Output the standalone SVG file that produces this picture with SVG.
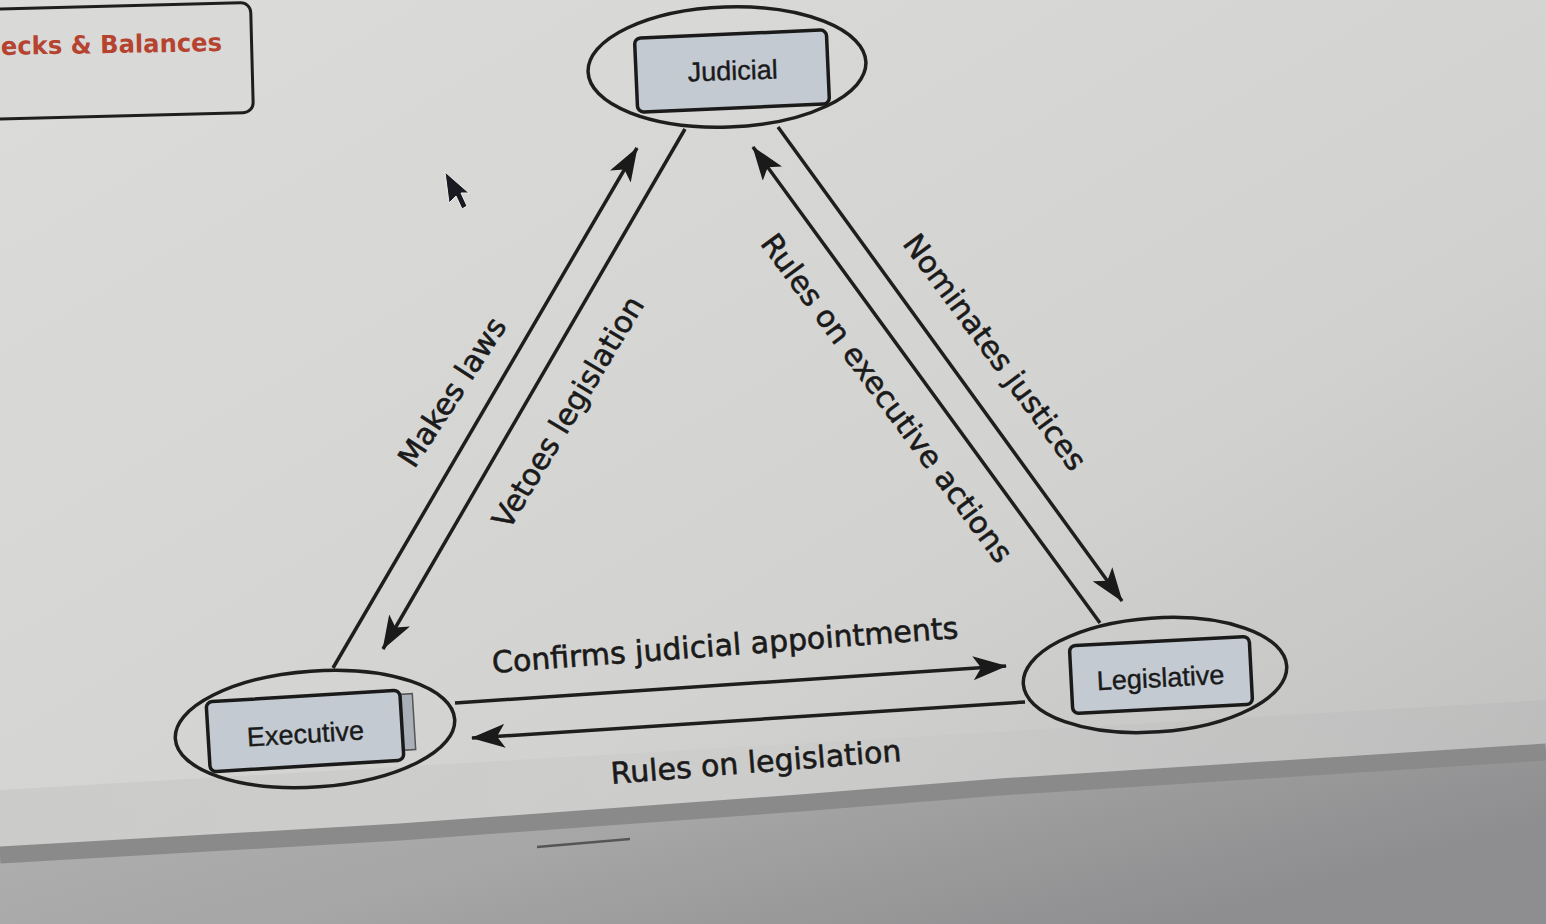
<svg xmlns="http://www.w3.org/2000/svg" width="1546" height="924" viewBox="0 0 1546 924">
<defs>
  <linearGradient id="bg" x1="0" y1="0" x2="1" y2="1">
    <stop offset="0" stop-color="#dcdcda"/>
    <stop offset="0.6" stop-color="#d2d2d0"/>
    <stop offset="1" stop-color="#bdbdbd"/>
  </linearGradient>
  <linearGradient id="low" x1="0" y1="0" x2="1" y2="0.4">
    <stop offset="0" stop-color="#b2b2b2"/>
    <stop offset="0.5" stop-color="#a6a6a6"/>
    <stop offset="1" stop-color="#8e8e90"/>
  </linearGradient>
  <linearGradient id="strip" x1="0" y1="0" x2="1" y2="0">
    <stop offset="0" stop-color="#c2c2c2"/>
    <stop offset="0.5" stop-color="#cacaca"/>
    <stop offset="1" stop-color="#b8b8b8"/>
  </linearGradient>
  <marker id="ah" viewBox="0 0 34 24" refX="33" refY="12" markerWidth="34" markerHeight="24" markerUnits="userSpaceOnUse" orient="auto">
    <path d="M0,0 L34,12 L0,24 L8,12 z" fill="#1a1a1a"/>
  </marker>
  <style>
    .line{stroke:#1e1e1e;stroke-width:3.5;fill:none}
    .ell{fill:none;stroke:#1e1e1e;stroke-width:3.5}
    .box{fill:#c3cad2;stroke:#1a1a1a;stroke-width:3.5}
    .nt{font-family:"Liberation Sans",Arial,sans-serif;font-size:27px;fill:#1a1a1a;stroke:#1a1a1a;stroke-width:0.4;text-anchor:middle}
    .lbl{font-family:"DejaVu Sans",Verdana,sans-serif;font-size:30px;fill:#1a1a1a;stroke:#1a1a1a;stroke-width:0.6;text-anchor:middle;dominant-baseline:central}
  </style>
</defs>

<!-- background scene -->
<rect x="0" y="0" width="1546" height="924" fill="url(#bg)"/>
<polygon points="0,790 1546,700 1546,752 1000,787 800,803 400,832 0,855" fill="url(#strip)" opacity="0.5"/>
<polygon points="0,855 400,832 800,803 1000,787 1546,752 1546,924 0,924" fill="url(#low)"/>
<polyline points="0,855 400,832 800,803 1000,787 1546,752" fill="none" stroke="#8a8a8a" stroke-width="17"/>
<line x1="537" y1="847" x2="630" y2="839" stroke="#555" stroke-width="2.5"/>

<!-- title panel -->
<g id="title">
  <rect x="-20" y="6" width="272" height="110" rx="10" fill="#d9d9d7" stroke="#1e1e1e" stroke-width="3" transform="rotate(-1.5 116 61)"/>
  <text x="1" y="53" font-family="'DejaVu Sans',Verdana,sans-serif" font-weight="bold" font-size="25" fill="#b5432f" textLength="221" lengthAdjust="spacingAndGlyphs" transform="rotate(-1 110 50)">ecks &amp; Balances</text>
</g>

<!-- connectors -->
<g id="connectors">
  <path class="line" d="M333,668 L637,148" marker-end="url(#ah)"/>
  <path class="line" d="M685,129 L383,649" marker-end="url(#ah)"/>
  <path class="line" d="M1100,623 L753,147" marker-end="url(#ah)"/>
  <path class="line" d="M778,127 L1122,601" marker-end="url(#ah)"/>
  <path class="line" d="M455,703 L1006,666" marker-end="url(#ah)"/>
  <path class="line" d="M1025,702 L472,738" marker-end="url(#ah)"/>
  <text class="lbl" x="452" y="392" font-size="32" transform="rotate(-57 452 392)">Makes laws</text>
  <text class="lbl" x="568" y="412" transform="rotate(-59 568 412)">Vetoes legislation</text>
  <text class="lbl" x="887" y="398" transform="rotate(53.5 887 398)">Rules on executive actions</text>
  <text class="lbl" x="995" y="352" transform="rotate(53.5 995 352)">Nominates justices</text>
  <text class="lbl" x="725" y="645" transform="rotate(-4.3 725 645)">Confirms judicial appointments</text>
  <text class="lbl" x="756" y="762" transform="rotate(-4.5 756 762)">Rules on legislation</text>
</g>

<!-- nodes -->
<g id="judicial">
  <ellipse class="ell" cx="727" cy="67" rx="139" ry="60" transform="rotate(-2 727 67)"/>
  <rect class="box" x="636" y="34" width="192" height="74" rx="6" transform="rotate(-2.5 732 71)"/>
  <text class="nt" x="733" y="80" transform="rotate(-2 733 80)">Judicial</text>
</g>
<g id="executive">
  <ellipse class="ell" cx="315" cy="729" rx="140" ry="58" transform="rotate(-4 315 729)"/>
  <rect x="400" y="694" width="14" height="56" fill="#a9b0b8" stroke="#555" stroke-width="1.5" transform="rotate(-3.5 407 722)"/>
  <rect class="box" x="208" y="696" width="194" height="70" rx="6" transform="rotate(-3.5 305 731)"/>
  <text class="nt" x="306" y="743" transform="rotate(-3.5 306 743)">Executive</text>
</g>
<g id="legislative">
  <ellipse class="ell" cx="1155" cy="675" rx="132" ry="57" transform="rotate(-4 1155 675)"/>
  <rect class="box" x="1071" y="641" width="180" height="68" rx="6" transform="rotate(-3 1161 675)"/>
  <text class="nt" x="1161" y="687" transform="rotate(-3 1161 687)">Legislative</text>
</g>

<!-- mouse pointer -->
<polygon points="445,172 449,203 456,196 462,209 467,206 461,193 469,193" fill="#1a1a22" stroke="#eee" stroke-width="1"/>
</svg>
